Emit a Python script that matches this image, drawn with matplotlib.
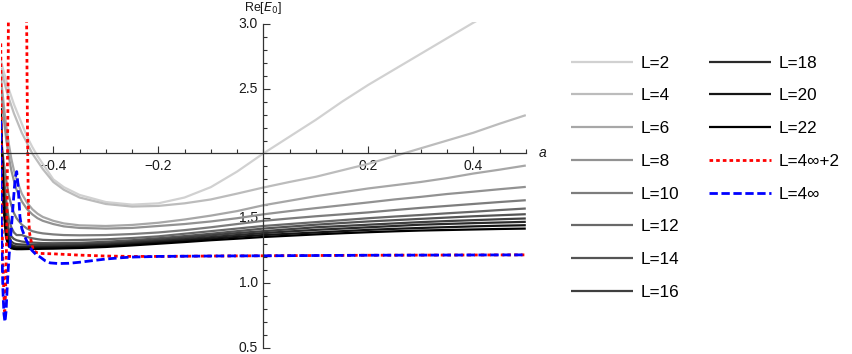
import matplotlib
matplotlib.use("Agg")
import matplotlib.pyplot as plt
from matplotlib.ticker import MultipleLocator

plt.rcParams['font.family'] = ['Liberation Sans', 'DejaVu Sans']

# shared grid for the finite-L curves
a_grid = [-0.5, -0.495, -0.49, -0.485, -0.48, -0.475, -0.47, -0.46, -0.45, -0.44,
          -0.43, -0.42, -0.4, -0.38, -0.35, -0.3, -0.25, -0.2, -0.15, -0.1,
          -0.05, 0.0, 0.05, 0.1, 0.15, 0.2, 0.25, 0.3, 0.35, 0.4, 0.45, 0.5]

E_L2 = [2.72, 2.64, 2.57, 2.50, 2.44, 2.38, 2.33, 2.23, 2.13, 2.05,
        1.98, 1.92, 1.80, 1.74, 1.68, 1.625, 1.605, 1.615, 1.66, 1.74,
        1.86, 2.00, 2.13, 2.26, 2.40, 2.53, 2.65, 2.77, 2.89, 3.01, 3.12, 3.23]
E_L4 = [2.66, 2.58, 2.50, 2.43, 2.37, 2.31, 2.26, 2.16, 2.08, 2.00,
        1.94, 1.88, 1.78, 1.72, 1.66, 1.61, 1.59, 1.595, 1.615, 1.645,
        1.69, 1.737, 1.78, 1.82, 1.87, 1.92, 1.98, 2.04, 2.10, 2.16, 2.23, 2.296]
E_L6 = [2.60, 2.40, 2.22, 2.08, 1.96, 1.87, 1.80, 1.69, 1.62, 1.57,
        1.535, 1.51, 1.48, 1.46, 1.445, 1.44, 1.448, 1.465, 1.49, 1.52,
        1.555, 1.60, 1.635, 1.67, 1.70, 1.73, 1.755, 1.78, 1.81, 1.845, 1.875, 1.907]
E_L8 = [2.50, 2.30, 2.12, 1.98, 1.87, 1.79, 1.72, 1.63, 1.57, 1.53,
        1.50, 1.48, 1.455, 1.437, 1.425, 1.42, 1.425, 1.44, 1.455, 1.475,
        1.50, 1.53, 1.555, 1.578, 1.60, 1.622, 1.645, 1.665, 1.687, 1.705, 1.724, 1.742]
E_L10 = [2.15, 1.95, 1.80, 1.68, 1.60, 1.54, 1.50, 1.45, 1.42, 1.40,
         1.39, 1.383, 1.375, 1.37, 1.368, 1.37, 1.378, 1.39, 1.408, 1.43,
         1.455, 1.48, 1.498, 1.515, 1.53, 1.545, 1.563, 1.58, 1.595, 1.61, 1.625, 1.639]
E_L12 = [2.10, 1.85, 1.65, 1.50, 1.43, 1.39, 1.37, 1.37, 1.355, 1.345,
         1.338, 1.333, 1.33, 1.33, 1.332, 1.337, 1.347, 1.36, 1.38, 1.40,
         1.42, 1.44, 1.455, 1.47, 1.485, 1.50, 1.513, 1.525, 1.538, 1.55, 1.563, 1.575]
E_L14 = [2.15, 1.80, 1.55, 1.42, 1.36, 1.34, 1.33, 1.32, 1.315, 1.312,
         1.31, 1.308, 1.307, 1.308, 1.31, 1.318, 1.33, 1.345, 1.362, 1.38,
         1.40, 1.42, 1.435, 1.45, 1.463, 1.475, 1.485, 1.495, 1.505, 1.515, 1.523, 1.531]
E_L16 = [2.20, 1.75, 1.48, 1.37, 1.32, 1.305, 1.30, 1.297, 1.296, 1.295,
         1.295, 1.295, 1.295, 1.296, 1.298, 1.305, 1.318, 1.333, 1.35, 1.368,
         1.385, 1.40, 1.415, 1.43, 1.44, 1.45, 1.46, 1.47, 1.478, 1.485, 1.492, 1.498]
E_L18 = [2.25, 1.70, 1.42, 1.33, 1.295, 1.285, 1.282, 1.281, 1.281, 1.281,
         1.282, 1.282, 1.283, 1.284, 1.287, 1.295, 1.308, 1.322, 1.338, 1.354,
         1.37, 1.385, 1.398, 1.41, 1.42, 1.43, 1.44, 1.45, 1.456, 1.462, 1.467, 1.472]
E_L20 = [2.30, 1.65, 1.38, 1.30, 1.28, 1.273, 1.271, 1.271, 1.271, 1.272,
         1.272, 1.273, 1.274, 1.275, 1.278, 1.286, 1.298, 1.312, 1.327, 1.342,
         1.356, 1.37, 1.38, 1.39, 1.40, 1.41, 1.418, 1.425, 1.431, 1.437, 1.442, 1.446]
E_L22 = [2.35, 1.60, 1.35, 1.285, 1.268, 1.263, 1.261, 1.261, 1.262, 1.263,
         1.263, 1.264, 1.265, 1.267, 1.27, 1.278, 1.29, 1.303, 1.316, 1.33,
         1.342, 1.355, 1.365, 1.375, 1.384, 1.392, 1.399, 1.405, 1.409, 1.413, 1.417, 1.42]

finite_L = ["L=2", "L=4", "L=6", "L=8", "L=10", "L=12", "L=14", "L=16", "L=18", "L=20", "L=22"]
finite_E = [E_L2, E_L4, E_L6, E_L8, E_L10, E_L12, E_L14, E_L16, E_L18, E_L20, E_L22]

# L = 4inf + 2 (red dotted)
a_odd = [-0.5, -0.499, -0.4975, -0.496, -0.494, -0.4925, -0.491, -0.4895, -0.488, -0.487,
         -0.486, -0.4855, -0.48, -0.47, -0.46, -0.452, -0.4505, -0.45, -0.449, -0.448,
         -0.447, -0.445, -0.441, -0.438, -0.432, -0.425, -0.4, -0.35, -0.3, -0.25,
         -0.2, -0.1, 0.0, 0.1, 0.2, 0.3, 0.4, 0.5]
E_odd = [2.85, 2.00, 1.45, 1.15, 0.90, 0.78, 0.92, 1.20, 1.60, 2.10,
         2.60, 3.10, 5.0, 7.0, 5.0, 3.30, 2.90, 2.60, 2.10, 1.75,
         1.50, 1.38, 1.30, 1.253, 1.235, 1.228, 1.225, 1.215, 1.208, 1.205,
         1.205, 1.208, 1.21, 1.212, 1.214, 1.215, 1.216, 1.217]

# L = 4inf (blue dashed)
a_even = [-0.5, -0.4995, -0.499, -0.4975, -0.496, -0.494, -0.492, -0.49, -0.488, -0.486,
          -0.484, -0.482, -0.48, -0.477, -0.474, -0.472, -0.4697, -0.467, -0.4635, -0.46,
          -0.454, -0.448, -0.441, -0.433, -0.425, -0.415, -0.406, -0.39, -0.37, -0.35,
          -0.32, -0.3, -0.27, -0.25, -0.2, -0.1, 0.0, 0.1, 0.2, 0.3, 0.4, 0.5]
E_even = [2.25, 1.80, 1.50, 1.20, 0.95, 0.76, 0.70, 0.78, 0.95, 1.10,
          1.22, 1.32, 1.42, 1.58, 1.74, 1.82, 1.86, 1.75, 1.51, 1.42,
          1.355, 1.30, 1.253, 1.22, 1.20, 1.17, 1.155, 1.15, 1.152, 1.16,
          1.175, 1.185, 1.195, 1.20, 1.205, 1.208, 1.21, 1.212, 1.214, 1.215, 1.216, 1.217]

x_ticks = [-0.4, -0.2, 0.2, 0.4]
x_ticklabels = ["\u22120.4", "\u22120.2", "0.2", "0.4"]
y_ticks = [0.5, 1.0, 1.5, 2.5, 3.0]
y_ticklabels = ["0.5", "1.0", "1.5", "2.5", "3.0"]

fig = plt.figure(figsize=(8.52, 3.54), dpi=100)
ax = fig.add_axes([0.8 / 852, 0.01596, 525 / 852, 0.92062])

handles = []
n = len(finite_L)
for i, (lab, E) in enumerate(zip(finite_L, finite_E)):
    g = 0.82 * (1 - i / (n - 1))
    h, = ax.plot(a_grid, E, color=str(g), lw=1.6, label=lab, solid_capstyle='butt')
    handles.append(h)

h_odd, = ax.plot(a_odd, E_odd, color='#ff0000', lw=2.0, ls=(0, (1.3, 1.1)), label="L=4\u221e+2")
h_even, = ax.plot(a_even, E_even, color='#0000ff', lw=2.0, ls=(0, (3.0, 1.3)), label="L=4\u221e")
handles += [h_odd, h_even]

ax.set_xlim(-0.5, 0.5)
ax.set_ylim(0.495, 3.012)

for s in ['top', 'right']:
    ax.spines[s].set_visible(False)
ax.spines['left'].set_position(('data', 0))
ax.spines['bottom'].set_position(('data', 2.0))
ax.spines['left'].set_bounds(0.5, 3.0)
ax.spines['bottom'].set_bounds(-0.5, 0.5)
for s in ['left', 'bottom']:
    ax.spines[s].set_color('0.2')
    ax.spines[s].set_linewidth(0.9)

ax.set_xticks(x_ticks)
ax.set_xticklabels(x_ticklabels)
ax.set_yticks(y_ticks)
ax.set_yticklabels(y_ticklabels, va='center')
ax.xaxis.set_minor_locator(MultipleLocator(0.05))
ax.yaxis.set_minor_locator(MultipleLocator(0.1))
ax.tick_params(which='both', direction='in', color='0.2', width=0.8,
               labelsize=10, labelcolor='0.1', pad=4)
ax.tick_params(which='major', length=4.8)
ax.tick_params(which='minor', length=2.8)
ax.patch.set_alpha(0)

ax.text(0, 3.125, "Re[$E_0$]", ha='center', va='center', fontsize=9, color='0.1', clip_on=False)
ax.text(0.531, 2.0, "a", ha='center', va='center', fontsize=10, style='italic', color='0.1', clip_on=False)

leg_kw = dict(loc='upper left', frameon=False, fontsize=12.3, borderpad=0, borderaxespad=0,
              handlelength=3.6, handletextpad=0.5, labelspacing=1.04)
fig.legend(handles=handles[:8], bbox_to_anchor=(571 / 852, 1 - 55.5 / 354), **leg_kw)
fig.legend(handles=handles[8:], bbox_to_anchor=(709 / 852, 1 - 55.5 / 354), **leg_kw)

fig.savefig("out.png", dpi=100)
